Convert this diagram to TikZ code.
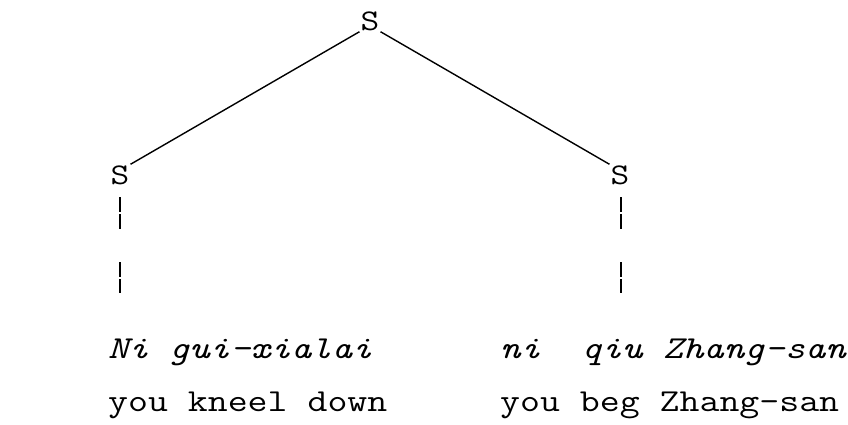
\documentclass[tikz,border=0pt]{standalone}
\usepackage{fontspec}
\setmonofont{Latin Modern Mono}[FakeStretch=1.21]
\begin{document}
\begin{tikzpicture}[x=1pt,y=-1pt,
  cat/.style={inner sep=1pt,font=\ttfamily\fontsize{30}{32}\selectfont},
  word/.style={inner sep=0pt,anchor=base west,font=\ttfamily\fontsize{32}{34}\selectfont},
  gloss/.style={word,font=\ttfamily\fontsize{32}{34}\itshape\selectfont},
  edge/.style={line width=1.4pt},
  tick/.style={line width=1.1pt,dash pattern=on 15pt off 2pt}]
\useasboundingbox (0,0) rectangle (848,425);
% tree nodes
\node[cat] (top) at (370,21) {S};
\node[cat] (left) at (120,175) {S};
\node[cat] (right) at (620,175) {S};
\draw[edge] (top.south west) -- (left.north east);
\draw[edge] (top.south east) -- (right.north west);
% broken vertical links
\coordinate (la) at (120,197);
\coordinate (lb) at (120,229);
\coordinate (lc) at (120,262);
\coordinate (ld) at (120,293);
\coordinate (ra) at (621,197);
\coordinate (rb) at (621,229);
\coordinate (rc) at (621,262);
\coordinate (rd) at (621,293);
\draw[tick] (la) -- (lb);
\draw[tick] (lc) -- (ld);
\draw[tick] (ra) -- (rb);
\draw[tick] (rc) -- (rd);
% words and glosses
\node[gloss] (w1) at (108,358) {Ni gui-xialai};
\node[gloss] (w2) at (500,358) {ni\ \ qiu Zhang-san};
\node[word] (g1) at (108,411) {you kneel down};
\node[word] (g2) at (500,411) {you beg Zhang-san};
\end{tikzpicture}
\end{document}
